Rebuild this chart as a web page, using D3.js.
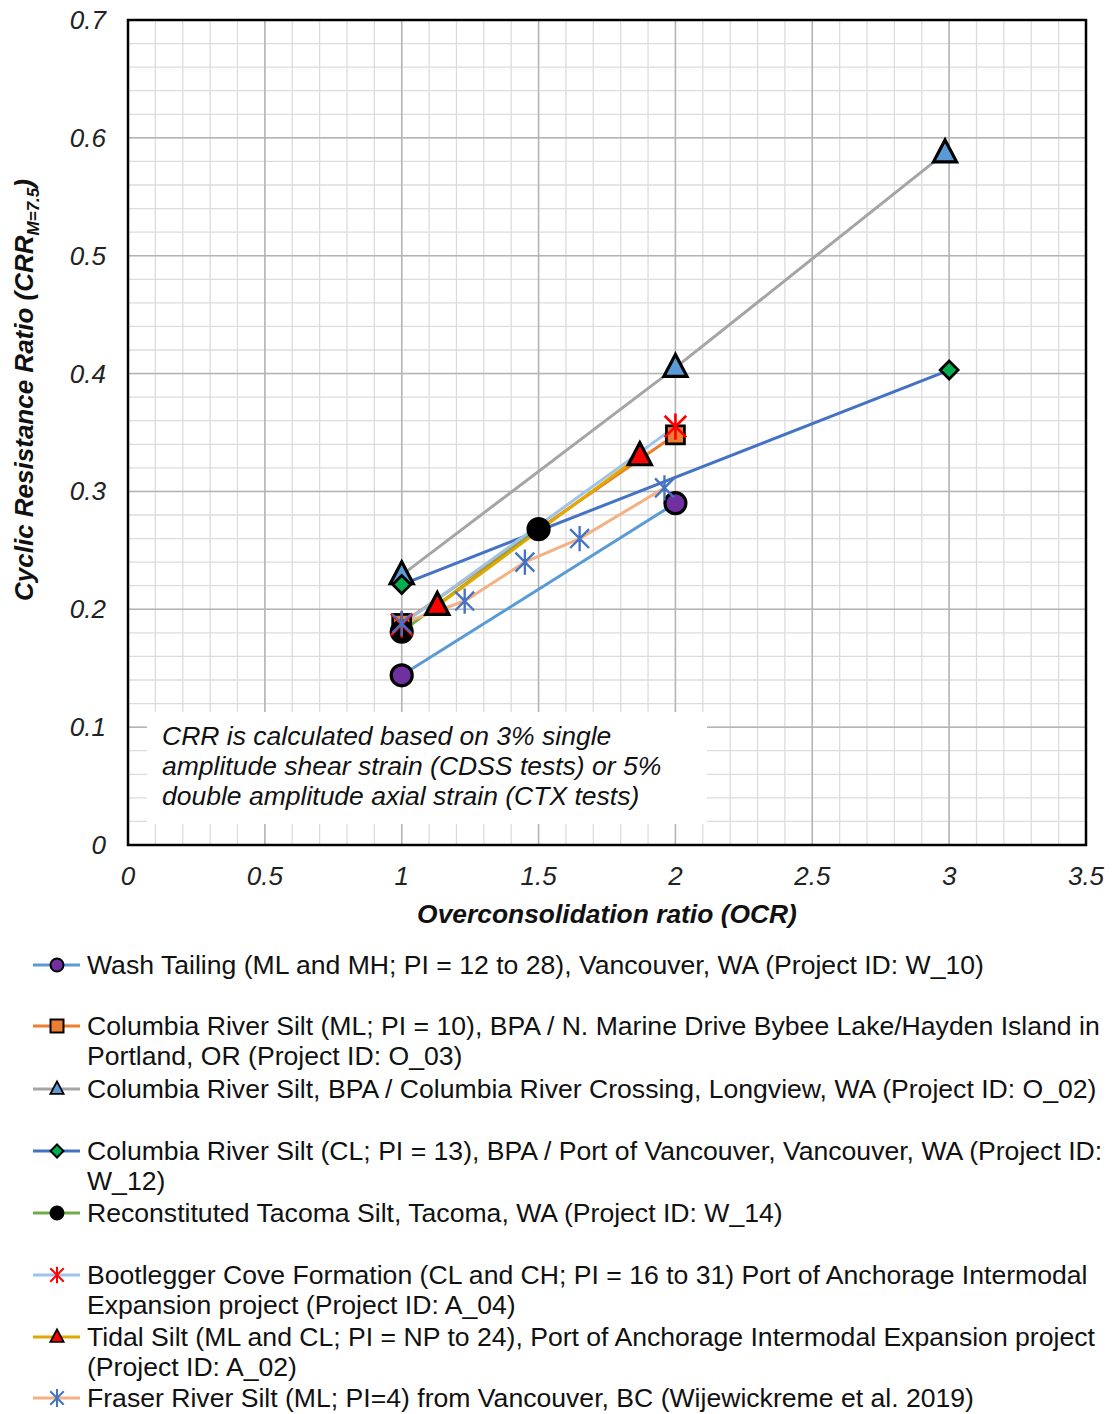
<!DOCTYPE html>
<html>
<head>
<meta charset="utf-8">
<script src="https://cdn.jsdelivr.net/npm/d3@7"></script>
<style>
  body { margin: 0; background: #fff; }
  svg { font-family: "Liberation Sans", Arial, sans-serif; }
</style>
</head>
<body>
<svg id="chart" width="1112" height="1414"></svg>
<script>
"use strict";

// series data
var washTailing = [[1, 0.144], [2, 0.290]];
var columbiaO03 = [[1, 0.188], [2, 0.348]];
var columbiaO02 = [[1, 0.229], [2, 0.405], [2.985, 0.587]];
var columbiaW12 = [[1, 0.221], [3, 0.403]];
var tacoma = [[1, 0.181], [1.5, 0.268]];
var bootlegger = [[1, 0.187], [2, 0.355]];
var tidalSilt = [[1.13, 0.203], [1.87, 0.330]];
var fraser = [[1, 0.188], [1.23, 0.207], [1.45, 0.240], [1.65, 0.260], [1.96, 0.303]];

var xTicks = [0, 0.5, 1, 1.5, 2, 2.5, 3, 3.5];
var yTicks = [0, 0.1, 0.2, 0.3, 0.4, 0.5, 0.6, 0.7];

var legendLabels = [
    ["Wash Tailing (ML and MH; PI = 12 to 28), Vancouver, WA (Project ID: W_10)"],
    ["Columbia River Silt (ML; PI = 10), BPA / N. Marine Drive Bybee Lake/Hayden Island in", "Portland, OR (Project ID: O_03)"],
    ["Columbia River Silt, BPA / Columbia River Crossing, Longview, WA (Project ID: O_02)"],
    ["Columbia River Silt (CL; PI = 13), BPA / Port of Vancouver, Vancouver, WA (Project ID:", "W_12)"],
    ["Reconstituted Tacoma Silt, Tacoma, WA (Project ID: W_14)"],
    ["Bootlegger Cove Formation (CL and CH; PI = 16 to 31) Port of Anchorage Intermodal", "Expansion project (Project ID: A_04)"],
    ["Tidal Silt (ML and CL; PI = NP to 24), Port of Anchorage Intermodal Expansion project", "(Project ID: A_02)"],
    ["Fraser River Silt (ML; PI=4) from Vancouver, BC (Wijewickreme et al. 2019)"]
];

var noteLines = [
    "CRR is calculated based on 3% single",
    "amplitude shear strain (CDSS tests) or 5%",
    "double amplitude axial strain (CTX tests)"
];

var series = [
    { data: washTailing, line: "#5b9bd5", marker: "circle", fill: "#7030a0" },
    { data: columbiaO03, line: "#ed7d31", marker: "square", fill: "#ed7d31" },
    { data: columbiaO02, line: "#a5a5a5", marker: "triangle", fill: "#5b9bd5" },
    { data: columbiaW12, line: "#4472c4", marker: "diamond", fill: "#00b050" },
    { data: tacoma, line: "#70ad47", marker: "circle", fill: "#000000" },
    { data: bootlegger, line: "#9dc3e6", marker: "xstar", fill: "#ff0000" },
    { data: tidalSilt, line: "#e0a800", marker: "triangle", fill: "#ff0000" },
    { data: fraser, line: "#f4b183", marker: "asterisk", fill: "#4472c4" }
];

var svg = d3.select("#chart");
var plotLeft = 128, plotRight = 1086, plotTop = 20, plotBottom = 845;

var x = d3.scaleLinear().domain([0, 3.5]).range([plotLeft, plotRight]);
var y = d3.scaleLinear().domain([0, 0.7]).range([plotBottom, plotTop]);

// grid
var grid = svg.append("g");
grid.selectAll(".vminor").data(d3.range(0, 35).map(function(i) { return i / 10; }))
    .enter().append("line")
    .attr("x1", function(d) { return x(d); }).attr("x2", function(d) { return x(d); })
    .attr("y1", plotTop).attr("y2", plotBottom)
    .attr("stroke", "#dcdcdc").attr("stroke-width", 1.3);
grid.selectAll(".hminor").data(d3.range(0, 35).map(function(i) { return i / 50; }))
    .enter().append("line")
    .attr("x1", plotLeft).attr("x2", plotRight)
    .attr("y1", function(d) { return y(d); }).attr("y2", function(d) { return y(d); })
    .attr("stroke", "#dcdcdc").attr("stroke-width", 1.3);
grid.selectAll(".vmajor").data(xTicks)
    .enter().append("line")
    .attr("x1", function(d) { return x(d); }).attr("x2", function(d) { return x(d); })
    .attr("y1", plotTop).attr("y2", plotBottom)
    .attr("stroke", "#b4b4b4").attr("stroke-width", 1.5);
grid.selectAll(".hmajor").data(yTicks)
    .enter().append("line")
    .attr("x1", plotLeft).attr("x2", plotRight)
    .attr("y1", function(d) { return y(d); }).attr("y2", function(d) { return y(d); })
    .attr("stroke", "#b4b4b4").attr("stroke-width", 1.5);

// note box covers the grid
svg.append("rect")
    .attr("x", 147).attr("y", 712).attr("width", 560).attr("height", 112)
    .attr("fill", "#fff");
svg.append("g").selectAll("text").data(noteLines).enter().append("text")
    .attr("x", 162).attr("y", function(d, i) { return 745 + i * 30; })
    .attr("font-size", 26.5).attr("font-style", "italic").attr("fill", "#111")
    .text(function(d) { return d; });

// frame
svg.append("rect")
    .attr("x", plotLeft).attr("y", plotTop).attr("width", plotRight - plotLeft).attr("height", plotBottom - plotTop)
    .attr("fill", "none").attr("stroke", "#000").attr("stroke-width", 2.5);

// tick labels
svg.append("g").selectAll("text").data(xTicks).enter().append("text")
    .attr("x", function(d) { return x(d); }).attr("y", 885)
    .attr("text-anchor", "middle").attr("font-size", 26).attr("font-style", "italic").attr("fill", "#222")
    .text(function(d) { return d; });
svg.append("g").selectAll("text").data(yTicks).enter().append("text")
    .attr("x", 106).attr("y", function(d) { return y(d) + 9; })
    .attr("text-anchor", "end").attr("font-size", 26).attr("font-style", "italic").attr("fill", "#222")
    .text(function(d) { return d; });

// axis titles
svg.append("text")
    .attr("x", 607).attr("y", 923).attr("text-anchor", "middle")
    .attr("font-size", 26.4).attr("font-style", "italic").attr("font-weight", "bold").attr("fill", "#111")
    .text("Overconsolidation ratio (OCR)");
var yTitle = svg.append("text")
    .attr("transform", "translate(33,390) rotate(-90)")
    .attr("text-anchor", "middle")
    .attr("font-size", 26).attr("font-style", "italic").attr("font-weight", "bold").attr("fill", "#111");
yTitle.append("tspan").text("Cyclic Resistance Ratio (CRR");
yTitle.append("tspan").attr("font-size", 17).attr("dy", 6).text("M=7.5");
yTitle.append("tspan").attr("dy", -6).text(")");

// markers
function drawMarker(g, type, fill, s) {
    if (type == "circle") {
        g.append("circle").attr("r", s).attr("fill", fill).attr("stroke", "#000").attr("stroke-width", s / 3.3);
    } else if (type == "square") {
        g.append("rect").attr("x", -s).attr("y", -s).attr("width", 2 * s).attr("height", 2 * s)
            .attr("fill", fill).attr("stroke", "#000").attr("stroke-width", s / 3.3);
    } else if (type == "triangle") {
        var h = s * 1.1;
        g.append("path").attr("d", "M0," + (-h * 1.15) + "L" + h + "," + (h * 0.75) + "L" + (-h) + "," + (h * 0.75) + "Z")
            .attr("fill", fill).attr("stroke", "#000").attr("stroke-width", s / 3.3).attr("stroke-linejoin", "miter");
    } else if (type == "diamond") {
        g.append("path").attr("d", "M0," + (-s) + "L" + s + ",0L0," + s + "L" + (-s) + ",0Z")
            .attr("fill", fill).attr("stroke", "#000").attr("stroke-width", s / 3.3);
    } else if (type == "xstar") {
        var a = s * 0.9;
        g.append("path").attr("d", "M" + (-a) + "," + (-a) + "L" + a + "," + a + "M" + (-a) + "," + a + "L" + a + "," + (-a) + "M0," + (-s * 1.1) + "L0," + (s * 1.1))
            .attr("stroke", fill).attr("stroke-width", Math.max(2, s / 4.5)).attr("fill", "none");
    } else if (type == "asterisk") {
        var b = s * 0.9;
        g.append("path").attr("d", "M" + (-b) + "," + (-b) + "L" + b + "," + b + "M" + (-b) + "," + b + "L" + b + "," + (-b) + "M0," + (-s * 1.2) + "L0," + (s * 1.2))
            .attr("stroke", fill).attr("stroke-width", Math.max(2, s / 4.5)).attr("fill", "none");
    }
}

var lineMaker = d3.line()
    .x(function(d) { return x(d[0]); })
    .y(function(d) { return y(d[1]); });

var plot = svg.append("g");
series.forEach(function(s) {
    plot.append("path").attr("d", lineMaker(s.data))
        .attr("fill", "none").attr("stroke", s.line).attr("stroke-width", 3);
});
series.forEach(function(s) {
    var size = s.marker == "diamond" ? 9 : (s.marker == "square" ? 9 : (s.marker == "xstar" ? 12 : 10.5));
    s.data.forEach(function(d) {
        var g = plot.append("g").attr("transform", "translate(" + x(d[0]) + "," + y(d[1]) + ")");
        drawMarker(g, s.marker, s.fill, size);
    });
});

// legend
var legendY = [965, 1026, 1089, 1151, 1213, 1275, 1337, 1398];
var legend = svg.append("g");
series.forEach(function(s, i) {
    var ly = legendY[i];
    legend.append("line").attr("x1", 33).attr("x2", 80).attr("y1", ly).attr("y2", ly)
        .attr("stroke", s.line).attr("stroke-width", 3);
    var g = legend.append("g").attr("transform", "translate(57," + ly + ")");
    var ms = s.marker == "triangle" ? 6 : (s.marker == "xstar" || s.marker == "asterisk" ? 7.5 : 6.5);
    drawMarker(g, s.marker, s.fill, ms);
    legendLabels[i].forEach(function(t, j) {
        legend.append("text").attr("x", 87).attr("y", ly + 9 + j * 30)
            .attr("font-size", 26.6).attr("fill", "#111")
            .text(t);
    });
});
</script>
</body>
</html>
